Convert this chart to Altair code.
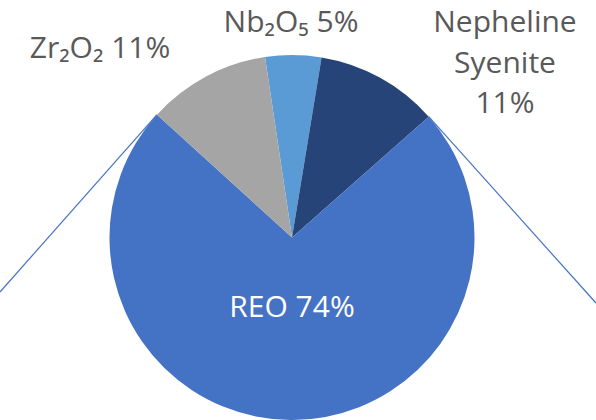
import math
import numpy as np
import pandas as pd
import altair as alt

# Shares of the feedstock (percent)
categories = ["Nb₂O₅", "Nepheline Syenite", "REO", "Zr₂O₂"]
shares = [5, 11, 74, 11]
colors = ["#5B9BD5", "#264478", "#4472C4", "#A5A5A5"]

W, H = 596, 420
CX, CY, R = 292, 237.5, 182.5
START = math.radians(-8.5)  # first slice begins just left of 12 o'clock

pie_df = pd.DataFrame({"cat": categories, "share": shares, "idx": range(len(shares))})

# Boundary angles of the REO slice, used to anchor the connector lines
total = float(sum(shares))
cum = np.cumsum([0] + shares) / total * 2 * math.pi + START
reo_i = categories.index("REO")
a_start, a_end = cum[reo_i], cum[reo_i + 1]


def edge_point(a):
    return CX + R * math.sin(a), CY - R * math.cos(a)


x1s, y1s = edge_point(a_end)    # REO / Zr₂O₂ boundary
x1e, y1e = edge_point(a_start)  # Nepheline / REO boundary
conn_df = pd.DataFrame({
    "x": [x1s, x1e],
    "y": [y1s, y1e],
    "x2": [0, W],
    "y2": [292, 303],
})

xs = alt.Scale(domain=[0, W], range=[0, W])
ys = alt.Scale(domain=[0, H], range=[0, H])

connectors = alt.Chart(conn_df).mark_rule(color="#4472C4", strokeWidth=1.2).encode(
    x=alt.X("x:Q", scale=xs, axis=None),
    y=alt.Y("y:Q", scale=ys, axis=None),
    x2="x2:Q",
    y2="y2:Q",
)

pie = alt.Chart(pie_df).mark_arc(outerRadius=R, x=CX, y=CY).encode(
    theta=alt.Theta("share:Q", stack=True,
                    scale=alt.Scale(range=[START, START + 2 * math.pi])),
    order=alt.Order("idx:Q"),
    color=alt.Color("cat:N", scale=alt.Scale(domain=categories, range=colors), legend=None),
)

FONT = "Open Sans"


def label(text, x, y, color="#595959", size=30, line_height=40.5):
    return alt.Chart(pie_df.head(1)).mark_text(
        text=text, x=x, y=y, font=FONT, fontSize=size, color=color,
        align="center", baseline="alphabetic", lineHeight=line_height,
    ).encode(opacity=alt.value(1))


labels = [
    label("Zr₂O₂ 11%", 100, 58),
    label("Nb₂O₅ 5%", 291, 32),
    label(["Nepheline", "Syenite", "11%"], 505, 32),
    label("REO 74%", 292, 317, color="#FFFFFF"),
]

chart = alt.layer(connectors, pie, *labels).properties(
    width=W, height=H, padding=0, autosize=alt.AutoSizeParams(type="none"),
).configure_view(stroke=None)

chart.save("out.html", embed_options={"renderer": "svg", "actions": False})
